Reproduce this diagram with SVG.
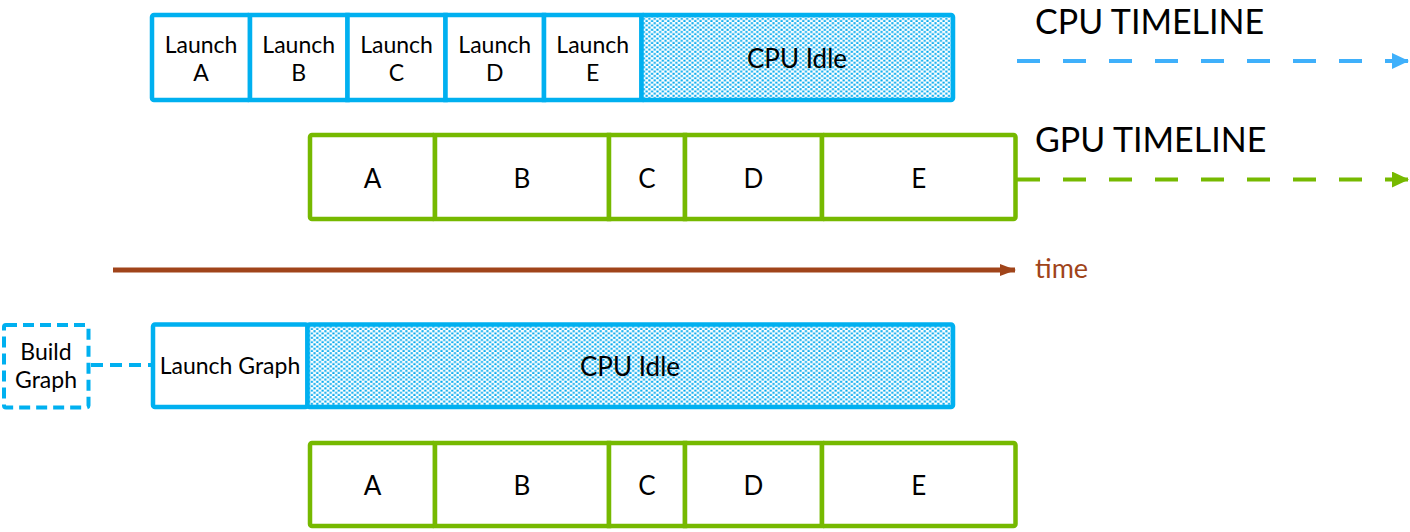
<svg xmlns="http://www.w3.org/2000/svg" width="1410" height="532" viewBox="0 0 1410 532">
  <defs>
    <pattern id="dots" width="5.4" height="4.4" patternUnits="userSpaceOnUse">
      <rect width="5.4" height="4.4" fill="#ffffff"/>
      <rect x="0.3" y="0.2" width="2.1" height="2" fill="#00a8ee"/>
      <rect x="3" y="2.4" width="2.1" height="2" fill="#00a8ee"/>
    </pattern>
    <marker id="headBlue" markerWidth="17" markerHeight="16" refX="16" refY="8" orient="auto" markerUnits="userSpaceOnUse">
      <path d="M0,0 L17,8 L0,16 Z" fill="#3fb0fb"/>
    </marker>
    <marker id="headGreen" markerWidth="17" markerHeight="16" refX="16" refY="8" orient="auto" markerUnits="userSpaceOnUse">
      <path d="M0,0 L17,8 L0,16 Z" fill="#76b900"/>
    </marker>
    <marker id="headBrown" markerWidth="16" markerHeight="12" refX="15" refY="6" orient="auto" markerUnits="userSpaceOnUse">
      <path d="M0,0 L16,6 L0,12 Z" fill="#a0441a"/>
    </marker>
  </defs>
  <style>
    .cpu { fill: #ffffff; stroke: #00b0f0; stroke-width: 4.5; }
    .idle { fill: url(#dots); stroke: #00b0f0; stroke-width: 4.5; }
    .gpu { fill: #ffffff; stroke: #76b900; stroke-width: 4.5; }
    .build { fill: #ffffff; stroke: #00b0f0; stroke-width: 4; stroke-dasharray: 11 6; }
    text { font-family: "Lato", "Liberation Sans", sans-serif; fill: #000000; text-anchor: middle; }
    .lbl { font-size: 23px; }
    .big { font-size: 26px; }
    .title { font-size: 34px; text-anchor: start; }
    .time { font-size: 27px; text-anchor: start; fill: #a0441a; }
  </style>

  <!-- connectors -->
  <g id="connectors" fill="none">
    <line x1="1017" y1="61" x2="1408" y2="61" stroke="#3fb0fb" stroke-width="4" stroke-dasharray="23 23" marker-end="url(#headBlue)"/>
    <line x1="1017" y1="179.5" x2="1408" y2="179.5" stroke="#76b900" stroke-width="4" stroke-dasharray="23 23" marker-end="url(#headGreen)"/>
    <line x1="113" y1="270" x2="1015" y2="270" stroke="#a0441a" stroke-width="5" marker-end="url(#headBrown)"/>
    <line x1="91" y1="365" x2="152" y2="365" stroke="#00b0f0" stroke-width="4" stroke-dasharray="12 7"/>
  </g>

  <!-- timeline titles -->
  <text class="title" x="1035" y="34">CPU TIMELINE</text>
  <text class="title" x="1035" y="152">GPU TIMELINE</text>
  <text class="time" x="1035" y="278">time</text>

  <!-- CPU timeline, stream launches -->
  <g id="launchA"><rect class="cpu" x="152" y="15" width="98" height="85" rx="2"/><text class="lbl" x="201" y="53">Launch</text><text class="lbl" x="201" y="81">A</text></g>
  <g id="launchB"><rect class="cpu" x="250" y="15" width="97.5" height="85"/><text class="lbl" x="298.7" y="53">Launch</text><text class="lbl" x="298.7" y="81">B</text></g>
  <g id="launchC"><rect class="cpu" x="347.5" y="15" width="98" height="85"/><text class="lbl" x="396.5" y="53">Launch</text><text class="lbl" x="396.5" y="81">C</text></g>
  <g id="launchD"><rect class="cpu" x="445.5" y="15" width="98.5" height="85"/><text class="lbl" x="494.7" y="53">Launch</text><text class="lbl" x="494.7" y="81">D</text></g>
  <g id="launchE"><rect class="cpu" x="544" y="15" width="97.5" height="85"/><text class="lbl" x="592.7" y="53">Launch</text><text class="lbl" x="592.7" y="81">E</text></g>
  <g id="cpuIdle1"><rect class="idle" x="641.5" y="15" width="311.5" height="85" rx="2"/><text class="big" x="797" y="68">CPU Idle</text></g>

  <!-- GPU timeline, stream kernels -->
  <g id="gpu1A"><rect class="gpu" x="310" y="135" width="125" height="84" rx="2"/><text class="big" x="372.5" y="188">A</text></g>
  <g id="gpu1B"><rect class="gpu" x="435" y="135" width="174" height="84"/><text class="big" x="522" y="188">B</text></g>
  <g id="gpu1C"><rect class="gpu" x="609" y="135" width="76" height="84"/><text class="big" x="647" y="188">C</text></g>
  <g id="gpu1D"><rect class="gpu" x="685" y="135" width="137" height="84"/><text class="big" x="753.5" y="188">D</text></g>
  <g id="gpu1E"><rect class="gpu" x="822" y="135" width="193.5" height="84" rx="2"/><text class="big" x="918.7" y="188">E</text></g>

  <!-- graph launch -->
  <g id="buildGraph"><rect class="build" x="4" y="325" width="84.5" height="82.5" rx="2"/><text class="lbl" x="46" y="360">Build</text><text class="lbl" x="46" y="388">Graph</text></g>
  <g id="launchGraph"><rect class="cpu" x="153" y="324.5" width="154.5" height="82.5" rx="2"/><text class="lbl" x="230" y="374">Launch Graph</text></g>
  <g id="cpuIdle2"><rect class="idle" x="307.5" y="324.5" width="645.5" height="82.5" rx="2"/><text class="big" x="630" y="376">CPU Idle</text></g>

  <!-- GPU timeline, graph kernels -->
  <g id="gpu2A"><rect class="gpu" x="310" y="443" width="125" height="83" rx="2"/><text class="big" x="372.5" y="495">A</text></g>
  <g id="gpu2B"><rect class="gpu" x="435" y="443" width="174" height="83"/><text class="big" x="522" y="495">B</text></g>
  <g id="gpu2C"><rect class="gpu" x="609" y="443" width="76" height="83"/><text class="big" x="647" y="495">C</text></g>
  <g id="gpu2D"><rect class="gpu" x="685" y="443" width="137" height="83"/><text class="big" x="753.5" y="495">D</text></g>
  <g id="gpu2E"><rect class="gpu" x="822" y="443" width="193.5" height="83" rx="2"/><text class="big" x="918.7" y="495">E</text></g>
</svg>
